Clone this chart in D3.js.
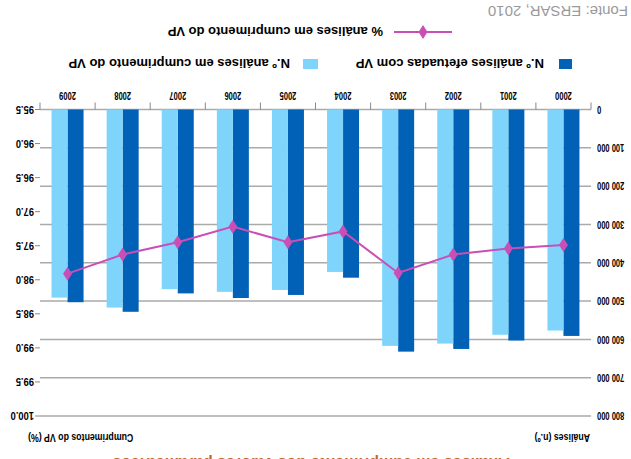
<!DOCTYPE html>
<html><head><meta charset="utf-8">
<script src="https://cdn.jsdelivr.net/npm/d3@7"></script>
<style>html,body{margin:0;padding:0;background:#fff;}svg{display:block;}</style>
</head><body>
<script>
const years = ["2000","2001","2002","2003","2004","2005","2006","2007","2008","2009"];
const analisesVP = [591000,603000,625000,632000,439000,484000,492000,480000,528000,503000];
const analisesCumpr = [577000,588000,611000,617000,424000,471000,476000,469000,517000,491000];
const pctCumpr = [97.49,97.54,97.63,97.90,97.29,97.45,97.22,97.45,97.63,97.91];
const leftTicks = [0,100000,200000,300000,400000,500000,600000,700000,800000];
const rightTicks = [95.5,96.0,96.5,97.0,97.5,98.0,98.5,99.0,99.5,100.0];
const seriesNames = ["N.º análises efetuadas com VP","N.º análises em cumprimento do VP","% análises em cumprimento do VP"];
const colors = ["#0061b7","#7fd4fb","#c94fb6"];

const W=631,H=459;
const m={l:40,r:591,t:43,b:349.5};
const svg=d3.select("body").append("svg").attr("width",W).attr("height",H);
const g=svg.append("g").attr("transform",`rotate(180 ${W/2} ${H/2})`);

const x=d3.scaleBand().domain(years).range([m.l,m.r]).paddingInner(0).paddingOuter(0);
const yL=d3.scaleLinear().domain([0,800000]).range([m.b,m.t]);
const yR=d3.scaleLinear().domain([95.5,100]).range([m.b,m.t]);
const sans='"Liberation Sans", Arial, sans-serif';

// condensed text helper
function ctext(parent, px, py, txt, opts){
  const t=parent.append("g").attr("transform",`translate(${px},${py}) scale(${opts.sx||0.78},1)`)
   .append("text").attr("x",0).attr("y",0)
   .attr("text-anchor",opts.anchor||"start").attr("font-family",sans)
   .attr("font-weight","bold").attr("font-size",opts.size||10.5).attr("fill","#000").text(txt);
  if(opts.dy) t.attr("dy",opts.dy);
  return t;
}

// title (clipped at top)
g.append("text").attr("x",320).attr("y",1).attr("text-anchor","middle")
 .attr("font-family",sans).attr("font-weight","bold")
 .attr("font-size",16).attr("fill","#c06a28")
 .text("Análises em cumprimento dos valores paramétricos");

// gridlines
g.append("g").selectAll("line").data(leftTicks).join("line")
 .attr("x1",m.l).attr("x2",m.r).attr("y1",d=>yL(d)).attr("y2",d=>yL(d))
 .attr("stroke","#aaaaaa").attr("stroke-width",1.5);

// left axis labels
const fmt=d=>d===0?"0":d3.format(",")(d).replace(/,/g," ");
const gl=g.append("g");
leftTicks.forEach(d=>ctext(gl,34,yL(d),fmt(d),{anchor:"end",dy:"0.35em",sx:0.72,size:10.5}));

// right axis ticks + labels
g.append("g").selectAll("line").data(rightTicks).join("line")
 .attr("x1",m.r).attr("x2",m.r+5).attr("y1",d=>yR(d)).attr("y2",d=>yR(d))
 .attr("stroke","#888").attr("stroke-width",1);
const gr=g.append("g");
rightTicks.forEach(d=>ctext(gr,597,yR(d),d3.format(".1f")(d),{anchor:"start",dy:"0.35em",sx:0.85,size:11}));

// category ticks
const bounds=years.map(d=>x(d)).concat([m.r]);
g.append("g").selectAll("line").data(bounds).join("line")
 .attr("x1",d=>d).attr("x2",d=>d).attr("y1",m.b).attr("y2",m.b+7)
 .attr("stroke","#888").attr("stroke-width",1);
// year labels
const gy=g.append("g");
years.forEach(d=>ctext(gy,x(d)+x.bandwidth()/2,m.b+18,d,{anchor:"middle",sx:0.72,size:10.5}));

// bars
const bw=16, off=(x.bandwidth()-2*bw)/2;
g.append("g").selectAll("rect").data(years).join("rect")
 .attr("x",d=>x(d)+off).attr("width",bw)
 .attr("y",(d,i)=>yL(analisesVP[i])).attr("height",(d,i)=>yL(0)-yL(analisesVP[i]))
 .attr("fill",colors[0]);
g.append("g").selectAll("rect").data(years).join("rect")
 .attr("x",d=>x(d)+off+bw).attr("width",bw)
 .attr("y",(d,i)=>yL(analisesCumpr[i])).attr("height",(d,i)=>yL(0)-yL(analisesCumpr[i]))
 .attr("fill",colors[1]);

// line
const line=d3.line().x((d,i)=>x(years[i])+x.bandwidth()/2).y(d=>yR(d));
g.append("path").datum(pctCumpr).attr("d",line).attr("fill","none")
 .attr("stroke",colors[2]).attr("stroke-width",2);
const diamond="M0,-7L4.5,0L0,7L-4.5,0Z";
g.append("g").selectAll("path").data(pctCumpr).join("path")
 .attr("d",diamond).attr("fill",colors[2])
 .attr("transform",(d,i)=>`translate(${x(years[i])+x.bandwidth()/2},${yR(d)})`);

// axis titles
ctext(g,41,25,"Análises (n.º)",{sx:0.8,size:11});
ctext(g,603,25,"Cumprimentos do VP (%)",{anchor:"end",sx:0.8,size:11});

// legend
g.append("rect").attr("x",59).attr("y",390).attr("width",13).attr("height",10).attr("fill",colors[0]);
g.append("text").attr("x",87).attr("y",400).attr("font-family",sans).attr("font-weight","bold")
 .attr("font-size",13).text(seriesNames[0]);
g.append("rect").attr("x",313).attr("y",390).attr("width",15).attr("height",10).attr("fill",colors[1]);
g.append("text").attr("x",341).attr("y",400).attr("font-family",sans).attr("font-weight","bold")
 .attr("font-size",13).text(seriesNames[1]);
g.append("line").attr("x1",179).attr("x2",237).attr("y1",427).attr("y2",427)
 .attr("stroke",colors[2]).attr("stroke-width",2);
g.append("path").attr("d",diamond).attr("fill",colors[2]).attr("transform","translate(208,427)");
g.append("text").attr("x",248).attr("y",432).attr("font-family",sans).attr("font-weight","bold")
 .attr("font-size",13).text(seriesNames[2]);

// source
g.append("text").attr("x",3).attr("y",453).attr("font-family",sans)
 .attr("font-size",15).attr("fill","#9a9a9a").text("Fonte: ERSAR, 2010");
</script>
</body></html>
